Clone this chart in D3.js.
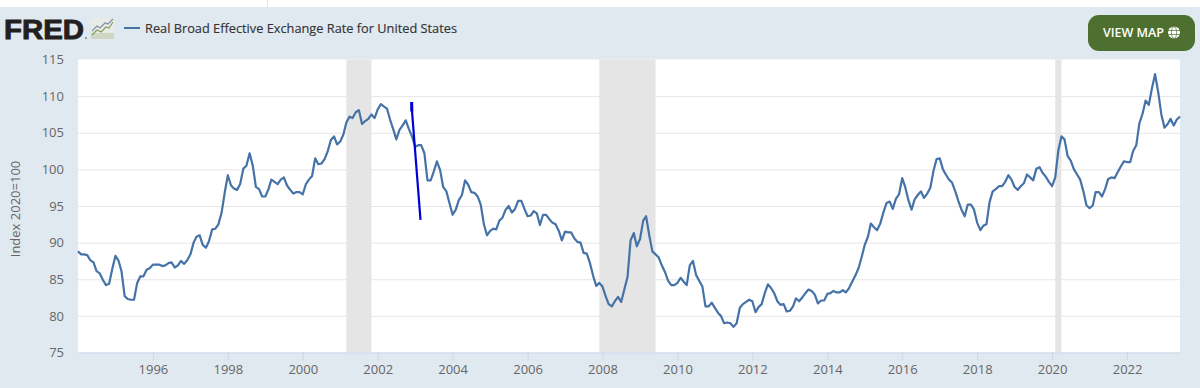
<!DOCTYPE html>
<html>
<head>
<meta charset="utf-8">
<script src="https://cdn.jsdelivr.net/npm/d3@7"></script>
<style>
  html, body { margin: 0; padding: 0; background: #fff; }
  text { font-family: "Open Sans", sans-serif; }
</style>
</head>
<body>
<div id="graph"></div>
<script>
'use strict'

const title = 'Real Broad Effective Exchange Rate for United States'
const yTitle = 'Index 2020=100'
const yTicks = [75, 80, 85, 90, 95, 100, 105, 110, 115]
const xTickYears = [1996, 1998, 2000, 2002, 2004, 2006, 2008, 2010, 2012, 2014, 2016, 2018, 2020, 2022]

// monthly values, one list per year
const y1994 = [88.8, 88.4, 88.4, 88.3, 87.6, 87.3, 86.1, 85.8, 84.9, 84.2, 84.4, 86.4]
const y1995 = [88.2, 87.5, 86.1, 82.7, 82.3, 82.2, 82.2, 84.5, 85.4, 85.4, 86.3, 86.5]
const y1996 = [87, 87, 87, 86.8, 86.9, 87.2, 87.3, 86.6, 86.9, 87.5, 87.1, 87.6]
const y1997 = [88.4, 90, 90.8, 91, 89.7, 89.3, 90.2, 91.8, 91.9, 92.5, 94.1, 96.8]
const y1998 = [99.2, 97.8, 97.4, 97.2, 98, 100.1, 100.5, 102.2, 100.5, 97.6, 97.3, 96.3]
const y1999 = [96.3, 97.3, 98.6, 98.3, 98, 98.6, 98.9, 97.8, 97.2, 96.7, 96.9, 96.9]
const y2000 = [96.6, 98, 98.6, 99.1, 101.5, 100.7, 100.8, 101.4, 102.5, 104, 104.5, 103.4]
const y2001 = [103.8, 104.8, 106.4, 107.2, 107, 107.8, 108.1, 106.2, 106.6, 106.9, 107.5, 107]
const y2002 = [108.2, 108.9, 108.6, 108.3, 106.8, 105.5, 104.1, 105.4, 106, 106.7, 105.5, 104.5]
const y2003 = [103.1, 103.3, 103.3, 102.2, 98.5, 98.5, 99.7, 101.1, 99.9, 97.6, 97, 95.4]
const y2004 = [93.8, 94.5, 95.8, 96.5, 98.5, 97.9, 96.9, 96.8, 96.3, 95.2, 92.5, 91]
const y2005 = [91.6, 91.9, 91.8, 93, 93.4, 94.5, 95, 94.1, 94.6, 95.7, 95.7, 94.6]
const y2006 = [93.6, 93.7, 94.3, 94, 92.4, 93.8, 93.8, 93.2, 92.7, 92.5, 91.6, 90.3]
const y2007 = [91.5, 91.4, 91.4, 90.6, 90.1, 90, 88.6, 88.5, 87.2, 85.5, 84.1, 84.5]
const y2008 = [84, 82.7, 81.6, 81.3, 82, 82.6, 81.9, 83.6, 85.3, 90.3, 91.3, 89.5]
const y2009 = [90.5, 93, 93.6, 91, 88.8, 88.4, 88, 86.9, 86, 84.8, 84.2, 84.2]
const y2010 = [84.5, 85.2, 84.7, 84.2, 86.9, 87.5, 85.6, 84.8, 84, 81.3, 81.3, 81.8]
const y2011 = [81.1, 80.4, 80, 79, 79.1, 79, 78.5, 79, 81.1, 81.6, 81.9, 82.2]
const y2012 = [82, 80.5, 81.2, 81.6, 83.1, 84.3, 83.8, 83.1, 82, 81.5, 81.6, 80.6]
const y2013 = [80.7, 81.3, 82.4, 82, 82.5, 83.1, 83.6, 83.4, 82.9, 81.7, 82.1, 82.1]
const y2014 = [83, 83.1, 83.4, 83.2, 83.2, 83.5, 83.2, 83.8, 84.7, 85.5, 86.5, 88]
const y2015 = [89.7, 90.8, 92.6, 92.1, 91.7, 92.6, 94.1, 95.4, 95.6, 94.6, 96, 96.6]
const y2016 = [98.8, 97.5, 95.8, 94.5, 95.9, 96.5, 97, 96.1, 96.7, 97.5, 99.8, 101.4]
const y2017 = [101.5, 100, 99.3, 98.6, 98.2, 97, 95.7, 94.5, 93.6, 95.2, 95.2, 94.5]
const y2018 = [92.7, 91.7, 92.3, 92.5, 95.5, 97, 97.3, 97.7, 97.7, 98.3, 99.2, 98.6]
const y2019 = [97.6, 97.2, 97.7, 98.1, 99.3, 98.9, 98.5, 100.1, 100.3, 99.5, 99, 98.3]
const y2020 = [97.7, 98.9, 102.5, 104.5, 104.1, 101.8, 101.2, 100, 99.3, 98.6, 97, 95.1]
const y2021 = [94.7, 95.1, 96.9, 96.9, 96.3, 97.3, 98.7, 98.9, 98.8, 99.6, 100.4, 101.1]
const y2022 = [101, 101, 102.5, 103.3, 106.3, 107.6, 109.4, 108.8, 111.1, 113, 110.5, 107.5]
const y2023 = [105.7, 106.2, 106.9, 106, 106.8, 107.2]

const values = [].concat(y1994, y1995, y1996, y1997, y1998, y1999, y2000, y2001, y2002, y2003,
  y2004, y2005, y2006, y2007, y2008, y2009, y2010, y2011, y2012, y2013,
  y2014, y2015, y2016, y2017, y2018, y2019, y2020, y2021, y2022, y2023)

// recession bands as [start year, start month, end year, end month]
const recessions = [[2001, 2, 2001, 10], [2007, 11, 2009, 5], [2020, 1, 2020, 3]]

// hand drawn blue stroke on top of the chart, [year, month, value]
const markStroke = [[2002, 10.9, 109.2], [2002, 11.1, 107.6], [2003, 1.7, 93.1]]
const markBlob = [[2002, 10.9, 109.2], [2002, 10.95, 107.9]]

const width = 1200
const height = 388
const margin = { top: 59.5, right: 20, bottom: 35.5, left: 78 }

const month = (y, m) => new Date(Date.UTC(y, Math.floor(m), 1 + (m % 1) * 30))
const data = values.map((v, i) => ({ date: month(1994, i), value: v }))

const x = d3.scaleUtc()
  .domain([month(1994, 0), d3.max(data, d => d.date)])
  .range([margin.left, width - margin.right])
const y = d3.scaleLinear()
  .domain([75, 115])
  .range([height - margin.bottom, margin.top])

const svg = d3.select('#graph').append('svg')
  .attr('width', width)
  .attr('height', height)
  .style('display', 'block')

// page background and plot area
svg.append('rect').attr('y', 7).attr('width', width).attr('height', height - 7).attr('fill', '#e1e9f0')
svg.append('rect').attr('x', 267).attr('width', 1).attr('height', 7).attr('fill', '#e4e4e4')
svg.append('rect')
  .attr('x', margin.left).attr('y', margin.top)
  .attr('width', width - margin.left - margin.right)
  .attr('height', y(75) - margin.top)
  .attr('fill', '#fff')

// recession bands
svg.append('g').selectAll('rect')
  .data(recessions)
  .enter().append('rect')
    .attr('x', d => x(month(d[0], d[1])))
    .attr('y', margin.top)
    .attr('width', d => x(month(d[2], d[3])) - x(month(d[0], d[1])))
    .attr('height', y(75) - margin.top)
    .attr('fill', '#e5e5e5')

// y axis with grid lines
const yAxis = svg.append('g')
  .attr('transform', `translate(${margin.left},0)`)
  .call(d3.axisLeft(y).tickValues(yTicks).tickSize(0).tickPadding(14))
yAxis.select('.domain').remove()
yAxis.selectAll('text').attr('font-size', 13).attr('fill', '#666').style('font-family', '"Open Sans", sans-serif')
yAxis.selectAll('.tick').filter(d => d !== 75 && d !== 115).append('line')
  .attr('x2', width - margin.left - margin.right)
  .attr('stroke', '#e6e6e6')
  .attr('stroke-width', 1)
  .lower()

// x axis
const xAxis = svg.append('g')
  .attr('transform', `translate(0,${y(75)})`)
  .call(d3.axisBottom(x)
    .tickValues(xTickYears.map(d => month(d, 0)))
    .tickFormat(d3.utcFormat('%Y'))
    .tickSize(8)
    .tickSizeOuter(0)
    .tickPadding(4))
xAxis.select('.domain').attr('stroke', '#ccd6eb')
xAxis.selectAll('line').attr('stroke', '#ccd6eb')
xAxis.selectAll('text').attr('font-size', 13).attr('fill', '#666').style('font-family', '"Open Sans", sans-serif')

svg.append('text')
  .attr('transform', 'translate(20,209) rotate(-90)')
  .attr('text-anchor', 'middle')
  .attr('font-size', 13)
  .attr('fill', '#666')
  .text(yTitle)

// series line
const line = d3.line()
  .x(d => x(d.date))
  .y(d => y(d.value))

svg.append('path')
  .datum(data)
  .attr('fill', 'none')
  .attr('stroke', '#4572a7')
  .attr('stroke-width', 2.2)
  .attr('stroke-linejoin', 'round')
  .attr('d', line)

const toPoint = d => ({ date: month(d[0], d[1]), value: d[2] })

svg.append('path')
  .datum(markStroke.map(toPoint))
  .attr('fill', 'none')
  .attr('stroke', '#0000d6')
  .attr('stroke-width', 2.2)
  .attr('d', line)
svg.append('path')
  .datum(markBlob.map(toPoint))
  .attr('fill', 'none')
  .attr('stroke', '#0000d6')
  .attr('stroke-width', 3)
  .attr('d', line)

// header: logo, legend, button
const logo = svg.append('g')
logo.append('text')
  .attr('x', 4).attr('y', 38.5)
  .attr('textLength', 80)
  .attr('lengthAdjust', 'spacingAndGlyphs')
  .attr('font-size', 27)
  .attr('font-weight', 700)
  .attr('fill', '#231f20')
  .attr('stroke', '#231f20')
  .attr('stroke-width', 0.9)
  .style('font-family', '"Liberation Sans", sans-serif')
  .text('FRED')
logo.append('circle').attr('cx', 86).attr('cy', 38).attr('r', 1).attr('fill', '#777')

const icon = svg.append('g').attr('transform', 'translate(91,18)')
icon.append('rect').attr('width', 23).attr('height', 21).attr('fill', '#e9ebe6')
icon.append('rect').attr('y', 15).attr('width', 23).attr('height', 6).attr('fill', '#cfd6c4')
const iconLine = d3.line().x(d => d[0]).y(d => d[1])
icon.append('path')
  .attr('d', iconLine([[1, 13], [6, 8], [9, 10], [14, 5], [17, 6], [22, 1]]))
  .attr('fill', 'none').attr('stroke', '#7f8fa3').attr('stroke-width', 1.1)
icon.append('path')
  .attr('d', iconLine([[1, 17], [6, 12], [10, 14], [15, 9], [18, 10], [22, 4]]))
  .attr('fill', 'none').attr('stroke', '#7f9e5a').attr('stroke-width', 1.1)

svg.append('line')
  .attr('x1', 124).attr('x2', 140)
  .attr('y1', 28).attr('y2', 28)
  .attr('stroke', '#4572a7')
  .attr('stroke-width', 2)
svg.append('text')
  .attr('x', 145).attr('y', 33)
  .attr('textLength', 312)
  .attr('lengthAdjust', 'spacingAndGlyphs')
  .attr('font-size', 13)
  .attr('fill', '#333')
  .attr('stroke', '#333')
  .attr('stroke-width', 0.15)
  .text(title)

svg.append('rect')
  .attr('x', 1088).attr('y', 15)
  .attr('width', 107).attr('height', 36)
  .attr('rx', 11)
  .attr('fill', '#4d7030')
svg.append('text')
  .attr('x', 1103).attr('y', 37)
  .attr('textLength', 61)
  .attr('lengthAdjust', 'spacingAndGlyphs')
  .attr('font-size', 13)
  .attr('font-weight', 600)
  .attr('fill', '#fff')
  .text('VIEW MAP')

const globe = svg.append('g')
  .attr('transform', 'translate(1174,32.5)')
  .attr('fill', 'none')
  .attr('stroke', '#fff')
globe.append('circle').attr('r', 6).attr('fill', '#fff').attr('stroke', 'none')
globe.append('ellipse').attr('rx', 2.6).attr('ry', 6).attr('stroke', '#4d7030').attr('stroke-width', 0.7)
globe.append('line').attr('x1', -6).attr('x2', 6).attr('y1', -2).attr('y2', -2).attr('stroke', '#4d7030').attr('stroke-width', 0.7)
globe.append('line').attr('x1', -6).attr('x2', 6).attr('y1', 2).attr('y2', 2).attr('stroke', '#4d7030').attr('stroke-width', 0.7)
</script>
</body>
</html>
